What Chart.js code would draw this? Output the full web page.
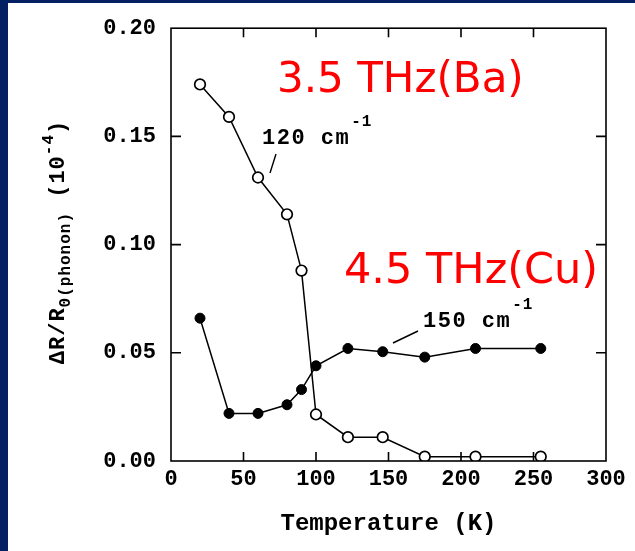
<!DOCTYPE html>
<html>
<head>
<meta charset="utf-8">
<script src="https://cdn.jsdelivr.net/npm/chart.js@4.4.1/dist/chart.umd.min.js"></script>
<style>
  html, body { margin: 0; padding: 0; background: #fff; }
  canvas { display: block; }
</style>
</head>
<body>
<canvas id="myChart" width="635" height="551"></canvas>
<script>
// Data
// --------------------------------------------
const temps = [20, 40, 60, 80, 90, 100, 122, 146, 175, 210, 255]
const open120 = [0.174, 0.159, 0.131, 0.114, 0.088, 0.0215, 0.011, 0.011, 0.002, 0.002, 0.002]
const filled150 = [0.066, 0.022, 0.022, 0.026, 0.033, 0.044, 0.052, 0.0505, 0.048, 0.052, 0.052]
const xTicks = [0, 50, 100, 150, 200, 250, 300]
const yTicks = [0, 0.05, 0.10, 0.15, 0.20]

const MONO = '"Liberation Mono", "DejaVu Sans Mono", monospace'
const NAVY = '#032162'

function toPoints(xs, ys) {
    return xs.map((x, i) => ({ x: x, y: ys[i] }))
}

// text with a raised small part
function drawSup(ctx, x, y, main, sup, mainSize, supSize, rise) {
    ctx.letterSpacing = '1.5px'
    ctx.font = `bold ${mainSize}px ${MONO}`
    ctx.fillText(main, x, y)
    let w = ctx.measureText(main).width
    ctx.letterSpacing = '1px'
    ctx.font = `bold ${supSize}px ${MONO}`
    ctx.fillText(sup, x + w + 1, y - rise)
    ctx.letterSpacing = '0px'
}

// Frame, inner ticks, labels
// --------------------------------------------
const decor = {
    id: 'decor',
    beforeDraw(chart) {
        const ctx = chart.ctx
        ctx.save()
        ctx.fillStyle = '#fff'
        ctx.fillRect(0, 0, chart.width, chart.height)
        ctx.fillStyle = NAVY
        ctx.fillRect(0, 0, 8, chart.height)
        ctx.fillRect(0, 0, chart.width, 3)
        ctx.restore()
    },
    afterDraw(chart) {
        const ctx = chart.ctx
        const a = chart.chartArea
        const xs = chart.scales.x
        const ys = chart.scales.y
        ctx.save()
        ctx.strokeStyle = '#000'
        ctx.lineWidth = 1.6
        ctx.strokeRect(a.left, a.top, a.right - a.left, a.bottom - a.top)

        ctx.beginPath()
        for (let t of xTicks.slice(1, -1)) {
            let px = xs.getPixelForValue(t)
            ctx.moveTo(px, a.bottom); ctx.lineTo(px, a.bottom - 9)
            ctx.moveTo(px, a.top); ctx.lineTo(px, a.top + 9)
        }
        for (let v of yTicks.slice(1, -1)) {
            let py = ys.getPixelForValue(v)
            ctx.moveTo(a.left, py); ctx.lineTo(a.left + 10, py)
            ctx.moveTo(a.right, py); ctx.lineTo(a.right - 10, py)
        }
        ctx.stroke()

        // leader lines for the series labels
        ctx.lineWidth = 1.4
        ctx.beginPath()
        ctx.moveTo(276, 154); ctx.lineTo(270, 173)
        ctx.moveTo(418, 331); ctx.lineTo(393, 343)
        ctx.stroke()

        ctx.fillStyle = '#000'
        ctx.textBaseline = 'alphabetic'
        ctx.textAlign = 'left'
        drawSup(ctx, 262, 144, '120 cm', '-1', 22, 16, 18)
        drawSup(ctx, 423, 327, '150 cm', '-1', 22, 16, 18)

        // x title
        ctx.font = `bold 24px ${MONO}`
        ctx.textAlign = 'center'
        ctx.fillText('Temperature (K)', (a.left + a.right) / 2, 530)

        // y title, rotated
        ctx.translate(64, 242)
        ctx.rotate(-Math.PI / 2)
        ctx.textAlign = 'left'
        ctx.letterSpacing = '1px'
        let parts = [
            ['\u0394R/R', 22, 0],
            ['0(phonon)', 16, -6],
            [' (10', 22, 0],
            ['-4', 16, 11],
            [')', 22, 0]
        ]
        let total = 0
        for (let p of parts) {
            ctx.font = `bold ${p[1]}px ${MONO}`
            total += ctx.measureText(p[0]).width
        }
        let cx = -total / 2
        for (let p of parts) {
            ctx.font = `bold ${p[1]}px ${MONO}`
            ctx.fillText(p[0], cx, -p[2])
            cx += ctx.measureText(p[0]).width
        }
        ctx.letterSpacing = '0px'
        ctx.restore()

        // red annotations
        ctx.save()
        ctx.fillStyle = '#ff0000'
        ctx.font = '42px "DejaVu Sans", Verdana, sans-serif'
        ctx.textAlign = 'left'
        ctx.fillText('3.5 THz(Ba)', 277, 92)
        ctx.font = '43px "DejaVu Sans", Verdana, sans-serif'
        ctx.fillText('4.5 THz(Cu)', 344, 283)
        ctx.restore()
    }
}

// Main chart
// --------------------------------------------
const ctx = document.getElementById('myChart').getContext('2d')
const myChart = new Chart(ctx, {
    type: 'line',
    data: {
        datasets: [{
            label: '150 cm-1',
            data: toPoints(temps, filled150),
            borderColor: '#000',
            backgroundColor: '#000',
            borderWidth: 1.5,
            pointRadius: 5,
            pointBorderWidth: 1,
            fill: false,
            tension: 0
        }, {
            label: '120 cm-1',
            data: toPoints(temps, open120),
            borderColor: '#000',
            backgroundColor: '#fff',
            borderWidth: 1.5,
            pointRadius: 5.3,
            pointBorderWidth: 1.7,
            fill: false,
            tension: 0
        }]
    },
    options: {
        responsive: false,
        animation: false,
        layout: { padding: { left: 0, top: 28, right: 29, bottom: 0 } },
        plugins: {
            legend: { display: false },
            tooltip: { enabled: false }
        },
        scales: {
            x: {
                type: 'linear',
                min: 0,
                max: 300,
                afterBuildTicks: s => { s.ticks = xTicks.map(v => ({ value: v })) },
                ticks: {
                    color: '#000',
                    font: { family: MONO, size: 22, weight: 'bold' },
                    padding: 5,
                    maxRotation: 0
                },
                grid: { display: false, drawTicks: false },
                border: { display: false },
                afterFit: s => { s.height = 90 }
            },
            y: {
                min: 0,
                max: 0.2,
                afterBuildTicks: s => { s.ticks = yTicks.map(v => ({ value: v })) },
                ticks: {
                    color: '#000',
                    font: { family: MONO, size: 22, weight: 'bold' },
                    padding: 15,
                    callback: v => v.toFixed(2)
                },
                grid: { display: false, drawTicks: false },
                border: { display: false },
                afterFit: s => { s.width = 171 }
            }
        }
    },
    plugins: [decor]
})
</script>
</body>
</html>
